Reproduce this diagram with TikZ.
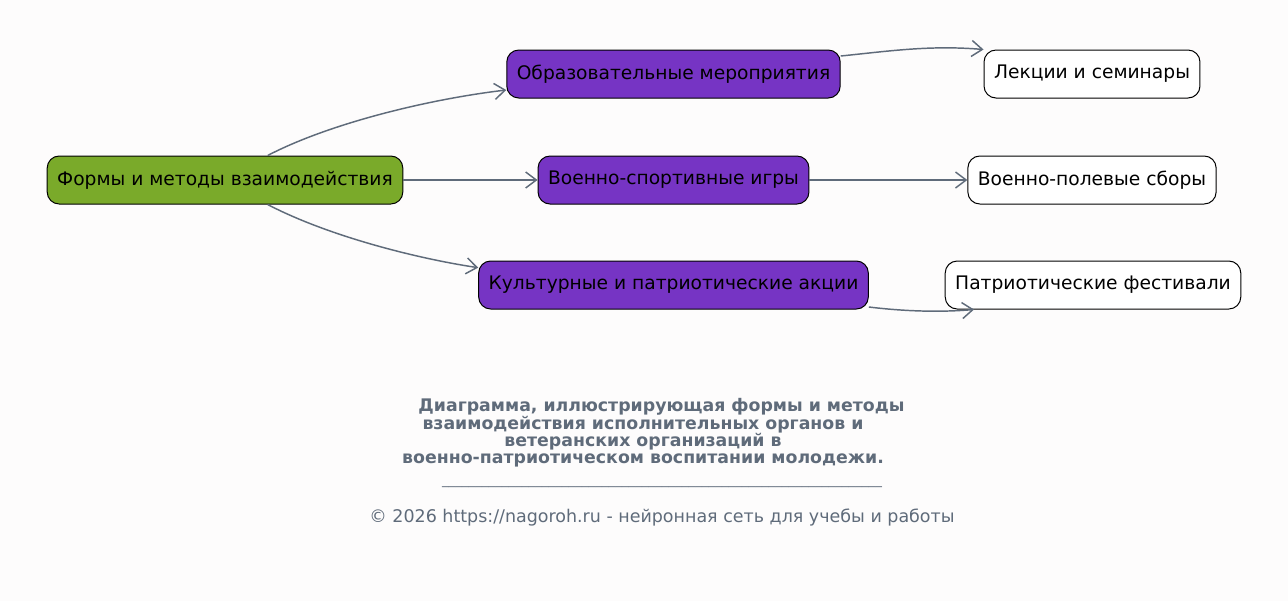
\documentclass[tikz,border=0pt]{standalone}
\usepackage{fontspec}
\setmainfont{DejaVu Sans}
\usetikzlibrary{arrows.meta}

\definecolor{rootgreen}{RGB}{122,170,42}
\definecolor{branchpurple}{RGB}{118,52,196}
\definecolor{edgegray}{RGB}{95,107,122}
\definecolor{pagebg}{RGB}{253,252,252}

\begin{document}
\begin{tikzpicture}[
    x=0.75pt, y=-0.75pt,
    every node/.style={font=\fontsize{14}{16}\selectfont, align=center},
    block/.style={rectangle, draw=black, line width=0.75pt, rounded corners=9pt,
                  minimum height=36pt, inner xsep=7.5pt, inner ysep=3pt},
    main/.style={block, fill=rootgreen},
    branch/.style={block, fill=branchpurple},
    leaf/.style={block, fill=white},
    arr/.style={-{Straight Barb[length=8pt, width=12pt, line width=1.1pt]}, edgegray, line width=1.1pt},
]
    \useasboundingbox[fill=pagebg] (0,0) rectangle (1288,601);

    \node[main] (root) at (225, 180) {Формы и методы взаимодействия};
    \node[branch] (obr) at (673.5, 74) {Образовательные мероприятия};
    \node[branch] (voen) at (673.5, 180) {Военно-спортивные игры};
    \node[branch] (kult) at (673.5, 285) {Культурные и патриотические акции};
    \node[leaf] (lekt) at (1092, 74) {Лекции и семинары};
    \node[leaf] (polev) at (1092, 180) {Военно-полевые сборы};
    \node[leaf] (fest) at (1093, 285) {Патриотические фестивали};

    \draw[arr] ([xshift=32pt]root.north) .. controls (330,123) and (430,99) .. ([yshift=-12pt]obr.west);
    \draw[arr] (root.east) -- (voen.west);
    \draw[arr] ([xshift=32pt]root.south) .. controls (330,237) and (420,259) .. ([yshift=13pt]kult.west);
    \draw[arr] ([yshift=13.5pt]obr.east) .. controls (890,51) and (930,45) .. (lekt.north west);
    \draw[arr] (voen.east) -- (polev.west);
    \draw[arr] ([yshift=-16.5pt]kult.east) .. controls (910,312) and (945,312) .. ([xshift=22pt]fest.south west);

    \node[font=\fontsize{13}{13.1}\selectfont\bfseries, text=edgegray] (title) at (643, 433)
        {\hspace*{27.75pt}Диаграмма, иллюстрирующая формы и методы\\
         взаимодействия исполнительных органов и\\
         ветеранских организаций в\\
         военно-патриотическом воспитании молодежи.};
    \node[font=\fontsize{10}{12}\selectfont, text=edgegray] (rule) at (662, 486)
        {\_\_\_\_\_\_\_\_\_\_\_\_\_\_\_\_\_\_\_\_\_\_\_\_\_\_\_\_\_\_\_\_\_\_\_\_\_\_\_\_\_\_\_\_\_\_\_\_\_\_\_\_\_\_\_\_\_\_\_\_\_\_\_\_\_\_};
    \node[font=\fontsize{13.1}{15}\selectfont, text=edgegray] (copy) at (662, 518)
        {© 2026 https://nagoroh.ru - нейронная сеть для учебы и работы};
\end{tikzpicture}
\end{document}
